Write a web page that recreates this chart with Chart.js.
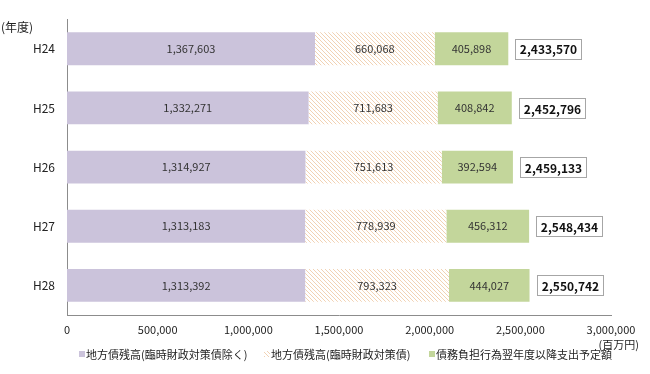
<!DOCTYPE html>
<html lang="ja">
<head>
<meta charset="UTF-8">
<title>地方債残高</title>
<script src="https://cdn.jsdelivr.net/npm/chart.js"></script>
<style>
  html, body { margin: 0; padding: 0; background: #fff; }
  #wrap { position: relative; width: 650px; height: 374px; }
</style>
</head>
<body>
<div id="wrap"><canvas id="debtChart"></canvas></div>
<script>
// 年度
const years = ['H24', 'H25', 'H26', 'H27', 'H28'];
// 地方債残高（臨時財政対策債除く）
const baseDebt = [1367603, 1332271, 1314927, 1313183, 1313392];
// 地方債残高（臨時財政対策債）
const tempDebt = [660068, 711683, 751613, 778939, 793323];
// 債務負担行為翌年度以降支出予定額
const futureObl = [405898, 408842, 392594, 456312, 444027];
// 合計
const totals = [2433570, 2452796, 2459133, 2548434, 2550742];
const xTicks = [0, 500000, 1000000, 1500000, 2000000, 2500000, 3000000];

const JP_FONT = '"Noto Sans CJK JP", "Noto Sans", sans-serif';

// hatch pattern for the 臨時財政対策債 bars
function makeHatch() {
    const c = document.createElement('canvas');
    c.width = 4; c.height = 4;
    const g = c.getContext('2d');
    g.fillStyle = '#fff';
    g.fillRect(0, 0, 4, 4);
    g.strokeStyle = '#f1d2b4';
    g.lineWidth = 1;
    g.beginPath();
    g.moveTo(-1, -1); g.lineTo(5, 5);
    g.moveTo(-1, 3); g.lineTo(1, 5);
    g.moveTo(3, -1); g.lineTo(5, 1);
    g.stroke();
    return g.createPattern(c, 'repeat');
}
const hatch = makeHatch();

const fmt = v => v.toLocaleString('en-US');

// values inside bars, boxed totals, captions and legend
const labelPlugin = {
    id: 'labels',
    afterDatasetsDraw(chart) {
        const ctx = chart.ctx;
        ctx.save();
        ctx.textAlign = 'center';
        ctx.textBaseline = 'middle';
        ctx.font = '11px ' + JP_FONT;
        ctx.fillStyle = '#333';
        chart.data.datasets.forEach((ds, di) => {
            chart.getDatasetMeta(di).data.forEach((bar, i) => {
                const cx = (bar.x + bar.base) / 2;
                ctx.fillText(fmt(ds.data[i]), cx, bar.y);
            });
        });
        const last = chart.getDatasetMeta(chart.data.datasets.length - 1).data;
        ctx.font = 'bold 12px ' + JP_FONT;
        last.forEach((bar, i) => {
            const txt = fmt(totals[i]);
            const w = Math.round(ctx.measureText(txt).width + 9);
            const h = 20;
            const x0 = Math.round(bar.x + 7);
            const y0 = Math.round(bar.y - h / 2);
            ctx.fillStyle = '#fff';
            ctx.fillRect(x0, y0, w, h);
            ctx.strokeStyle = '#a6a6a6';
            ctx.lineWidth = 1;
            ctx.strokeRect(x0 + 0.5, y0 + 0.5, w, h);
            ctx.fillStyle = '#111';
            ctx.fillText(txt, x0 + w / 2 + 0.5, bar.y + 1);
        });
        // unit and year captions
        ctx.font = '11px ' + JP_FONT;
        ctx.fillStyle = '#222';
        ctx.textAlign = 'right';
        ctx.fillText('(百万円)', 639, 345);
        ctx.textAlign = 'left';
        ctx.font = '12px ' + JP_FONT;
        ctx.fillText('(年度)', 1, 27);
        // legend
        ctx.font = '11px ' + JP_FONT;
        const legendX = [79, 264, 429];
        chart.data.datasets.forEach((ds, di) => {
            const x = legendX[di];
            ctx.fillStyle = ds.backgroundColor;
            ctx.fillRect(x, 351, 6, 6);
            ctx.fillStyle = '#222';
            ctx.fillText(ds.label, x + 7, 355);
        });
        ctx.restore();
    }
};

new Chart(document.getElementById('debtChart'), {
    type: 'bar',
    data: {
        labels: years,
        datasets: [
            { label: '地方債残高(臨時財政対策債除く)', data: baseDebt, backgroundColor: '#cbc3db' },
            { label: '地方債残高(臨時財政対策債)', data: tempDebt, backgroundColor: hatch },
            { label: '債務負担行為翌年度以降支出予定額', data: futureObl, backgroundColor: '#c3d69b' }
        ]
    },
    options: {
        indexAxis: 'y',
        responsive: true,
        maintainAspectRatio: false,
        animation: false,
        layout: { padding: { top: 17, right: 39, left: 0, bottom: 0 } },
        datasets: { bar: { categoryPercentage: 0.555, barPercentage: 1.0 } },
        scales: {
            x: {
                stacked: true,
                min: 0,
                max: 3000000,
                afterBuildTicks: axis => { axis.ticks = xTicks.map(v => ({ value: v })); },
                grid: { display: false, drawTicks: false },
                border: { color: '#8c8c8c' },
                ticks: {
                    color: '#222',
                    font: { size: 11, family: JP_FONT },
                    padding: 8,
                    maxRotation: 0,
                    autoSkip: false,
                    callback: v => fmt(v)
                },
                afterFit: axis => { axis.height = 59; }
            },
            y: {
                stacked: true,
                grid: { display: false, drawTicks: false },
                border: { color: '#8c8c8c' },
                ticks: { color: '#222', font: { size: 12, family: JP_FONT }, padding: 12 },
                afterFit: axis => { axis.width = 67; }
            }
        },
        plugins: {
            legend: { display: false },
            tooltip: { enabled: false }
        }
    },
    plugins: [labelPlugin]
});
</script>
</body>
</html>
